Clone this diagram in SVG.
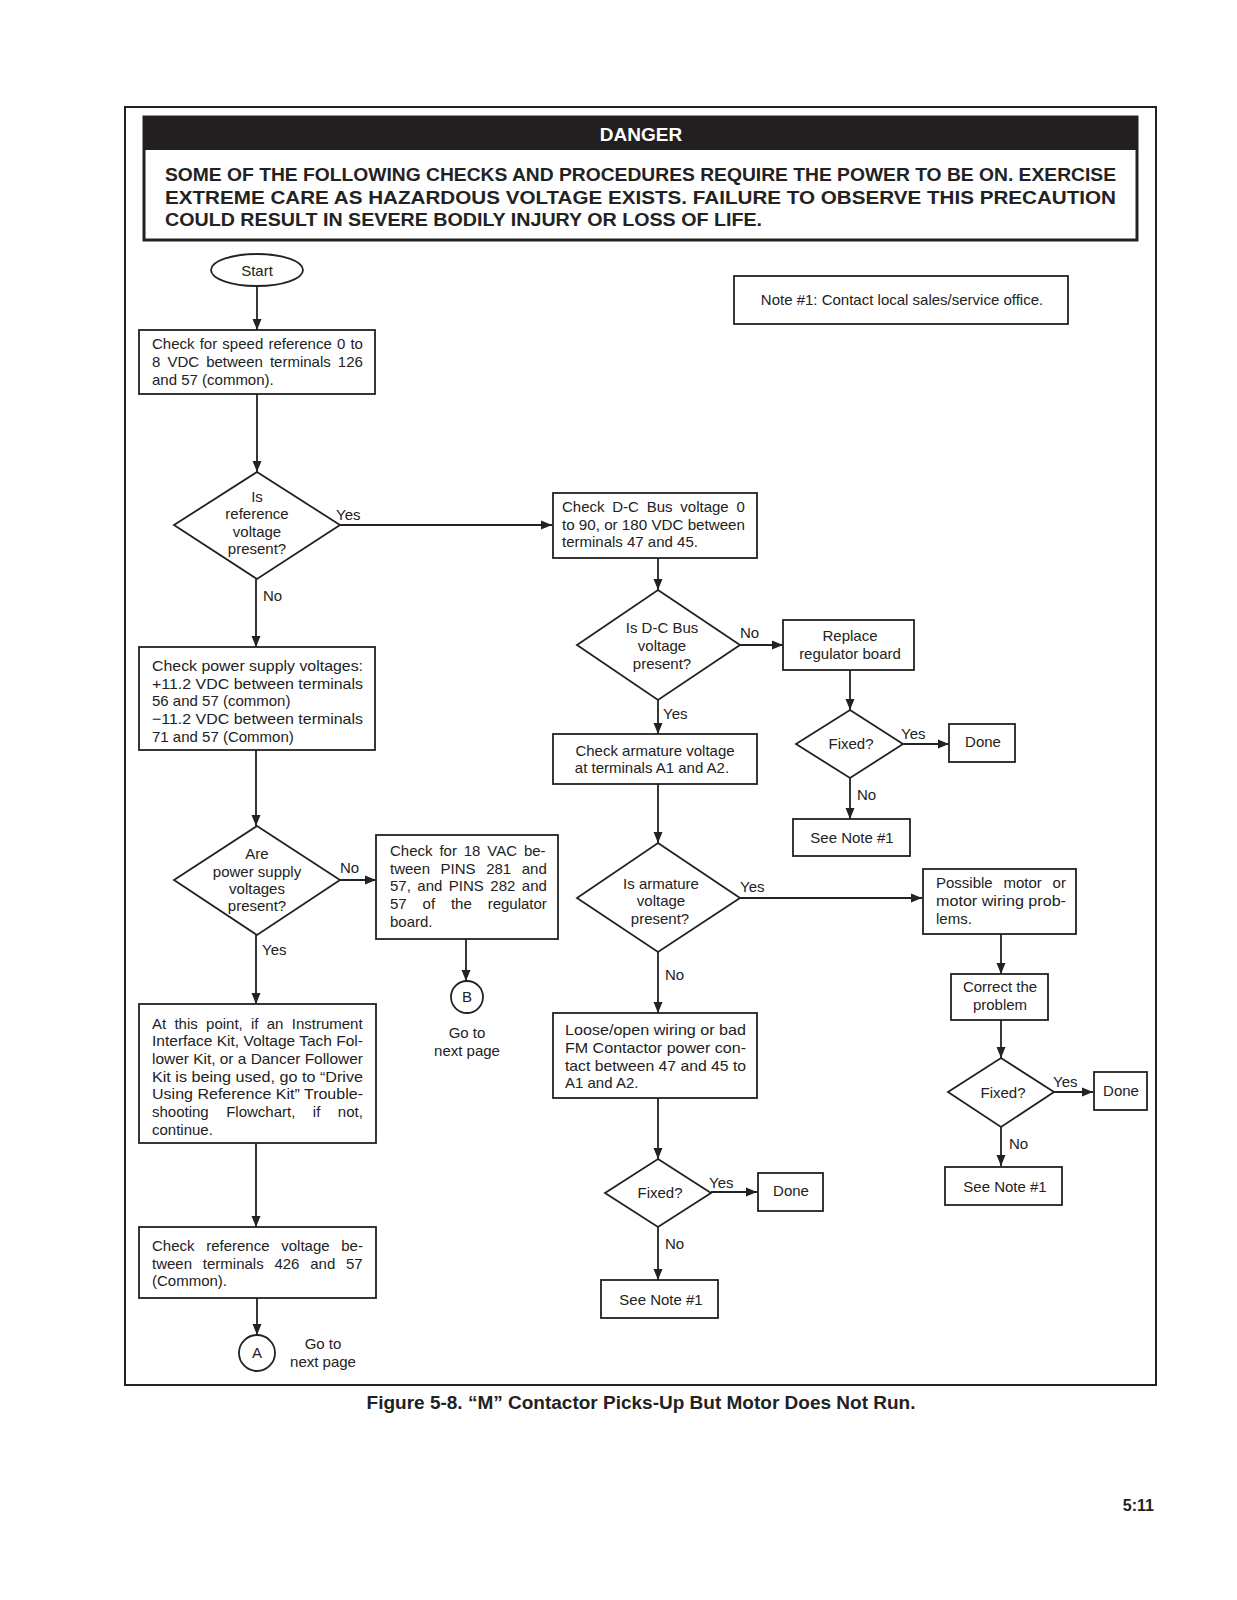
<svg xmlns="http://www.w3.org/2000/svg" width="1237" height="1600" viewBox="0 0 1237 1600">
<style>
  .bx{fill:#fff;stroke:#222;stroke-width:1.8}
  .t{font-family:"Liberation Sans",Arial,sans-serif;font-size:15px;fill:#222}
  .c{text-anchor:middle}
  .ln{stroke:#222;stroke-width:1.8;fill:none;marker-end:url(#ah)}
  .dg{font-family:"Liberation Sans",Arial,sans-serif;font-weight:bold;font-size:19px;fill:#222}
</style>
<defs>
  <marker id="ah" markerUnits="userSpaceOnUse" markerWidth="12" markerHeight="10" refX="11" refY="5" orient="auto">
    <path d="M0,0.5 L11,5 L0,9.5 Z" fill="#222"/>
  </marker>
</defs>
<rect width="1237" height="1600" fill="#fff"/>
<rect x="125" y="107" width="1031" height="1278" fill="none" stroke="#222" stroke-width="2"/>

<g id="danger">
  <rect x="144" y="117" width="993" height="123" fill="#fff" stroke="#222" stroke-width="3"/>
  <rect x="144" y="117" width="993" height="33" fill="#231f20"/>
  <text x="641" y="141" class="dg c" style="fill:#fff">DANGER</text>
  <text x="165" y="181" class="dg" textLength="951" lengthAdjust="spacingAndGlyphs">SOME OF THE FOLLOWING CHECKS AND PROCEDURES REQUIRE THE POWER TO BE ON. EXERCISE</text>
  <text x="165" y="204" class="dg" textLength="951" lengthAdjust="spacingAndGlyphs">EXTREME CARE AS HAZARDOUS VOLTAGE EXISTS. FAILURE TO OBSERVE THIS PRECAUTION</text>
  <text x="165" y="226" class="dg" textLength="597" lengthAdjust="spacingAndGlyphs">COULD RESULT IN SEVERE BODILY INJURY OR LOSS OF LIFE.</text>
</g>

<g id="connectors">
  <line x1="257" y1="286" x2="257" y2="330" class="ln"/>
  <line x1="257" y1="394" x2="257" y2="472" class="ln"/>
  <line x1="340" y1="525" x2="552" y2="525" class="ln"/>
  <line x1="256" y1="579" x2="256" y2="647" class="ln"/>
  <line x1="256" y1="750" x2="256" y2="826" class="ln"/>
  <line x1="340" y1="880" x2="376" y2="880" class="ln"/>
  <line x1="466" y1="939" x2="466" y2="981" class="ln"/>
  <line x1="256" y1="935" x2="256" y2="1004" class="ln"/>
  <line x1="256" y1="1143" x2="256" y2="1227" class="ln"/>
  <line x1="257" y1="1298" x2="257" y2="1335" class="ln"/>
  <line x1="658" y1="558" x2="658" y2="590" class="ln"/>
  <line x1="740" y1="645" x2="783" y2="645" class="ln"/>
  <line x1="850" y1="670" x2="850" y2="710" class="ln"/>
  <line x1="903" y1="744" x2="949" y2="744" class="ln"/>
  <line x1="850" y1="778" x2="850" y2="819" class="ln"/>
  <line x1="658" y1="700" x2="658" y2="734" class="ln"/>
  <line x1="658" y1="784" x2="658" y2="843" class="ln"/>
  <line x1="740" y1="898" x2="922" y2="898" class="ln"/>
  <line x1="1001" y1="934" x2="1001" y2="974" class="ln"/>
  <line x1="1001" y1="1020" x2="1001" y2="1058" class="ln"/>
  <line x1="1054" y1="1092" x2="1093" y2="1092" class="ln"/>
  <line x1="1001" y1="1127" x2="1001" y2="1166" class="ln"/>
  <line x1="658" y1="952" x2="658" y2="1013" class="ln"/>
  <line x1="658" y1="1098" x2="658" y2="1159" class="ln"/>
  <line x1="711" y1="1192" x2="757" y2="1192" class="ln"/>
  <line x1="658" y1="1227" x2="658" y2="1280" class="ln"/>
  <text x="336" y="520" class="t">Yes</text>
  <text x="263" y="601" class="t">No</text>
  <text x="340" y="873" class="t">No</text>
  <text x="262" y="955" class="t">Yes</text>
  <text x="740" y="638" class="t">No</text>
  <text x="663" y="719" class="t">Yes</text>
  <text x="901" y="739" class="t">Yes</text>
  <text x="857" y="800" class="t">No</text>
  <text x="740" y="892" class="t">Yes</text>
  <text x="665" y="980" class="t">No</text>
  <text x="1053" y="1087" class="t">Yes</text>
  <text x="1009" y="1149" class="t">No</text>
  <text x="709" y="1188" class="t">Yes</text>
  <text x="665" y="1249" class="t">No</text>
</g>

<g id="note1">
  <rect x="734" y="276" width="334" height="48" class="bx"/>
  <text x="902" y="305" class="t c">Note #1: Contact local sales/service office.</text>
</g>

<g id="start">
  <ellipse cx="257" cy="270" rx="46" ry="16" class="bx"/>
  <text x="257" y="276" class="t c">Start</text>
</g>

<g id="check-speed-ref">
  <rect x="139" y="330" width="236" height="64" class="bx"/>
  <text x="152" y="349" class="t" style="word-spacing:1px">Check for speed reference 0 to</text>
  <text x="152" y="367" class="t" style="word-spacing:2.9px">8 VDC between terminals 126</text>
  <text x="152" y="385" class="t">and 57 (common).</text>
</g>

<g id="ref-present">
  <polygon points="257,472 340,525 257,579 174,525" class="bx"/>
  <text x="257" y="502" class="t c">Is</text>
  <text x="257" y="519" class="t c">reference</text>
  <text x="257" y="537" class="t c">voltage</text>
  <text x="257" y="554" class="t c">present?</text>
</g>

<g id="check-power-supply">
  <rect x="139" y="647" width="236" height="103" class="bx"/>
  <text x="152" y="671" class="t" textLength="211" lengthAdjust="spacingAndGlyphs">Check power supply voltages:</text>
  <text x="152" y="689" class="t" textLength="211" lengthAdjust="spacingAndGlyphs">+11.2 VDC between terminals</text>
  <text x="152" y="706" class="t">56 and 57 (common)</text>
  <text x="152" y="724" class="t" textLength="211" lengthAdjust="spacingAndGlyphs">−11.2 VDC between terminals</text>
  <text x="152" y="742" class="t">71 and 57 (Common)</text>
</g>

<g id="ps-present">
  <polygon points="257,826 340,880 257,935 174,880" class="bx"/>
  <text x="257" y="859" class="t c">Are</text>
  <text x="257" y="877" class="t c">power supply</text>
  <text x="257" y="894" class="t c">voltages</text>
  <text x="257" y="911" class="t c">present?</text>
</g>

<g id="check-18vac">
  <rect x="376" y="835" width="182" height="104" class="bx"/>
  <text x="390" y="856" class="t" style="word-spacing:2.7px">Check for 18 VAC be-</text>
  <text x="390" y="874" class="t" style="word-spacing:6.4px">tween PINS 281 and</text>
  <text x="390" y="891" class="t" style="word-spacing:2.3px">57, and PINS 282 and</text>
  <text x="390" y="909" class="t" style="word-spacing:11.7px">57 of the regulator</text>
  <text x="390" y="927" class="t">board.</text>
</g>

<g id="connector-b">
  <circle cx="467" cy="997" r="16" class="bx"/>
  <text x="467" y="1002" class="t c">B</text>
  <text x="467" y="1038" class="t c">Go to</text>
  <text x="467" y="1056" class="t c">next page</text>
</g>

<g id="instrument-kit">
  <rect x="139" y="1004" width="237" height="139" class="bx"/>
  <text x="152" y="1029" class="t" style="word-spacing:4.1px">At this point, if an Instrument</text>
  <text x="152" y="1046" class="t" textLength="211" lengthAdjust="spacingAndGlyphs">Interface Kit, Voltage Tach Fol-</text>
  <text x="152" y="1064" class="t" textLength="211" lengthAdjust="spacingAndGlyphs">lower Kit, or a Dancer Follower</text>
  <text x="152" y="1082" class="t" textLength="211" lengthAdjust="spacingAndGlyphs">Kit is being used, go to “Drive</text>
  <text x="152" y="1099" class="t" textLength="211" lengthAdjust="spacingAndGlyphs">Using Reference Kit” Trouble-</text>
  <text x="152" y="1117" class="t" style="word-spacing:13.3px">shooting Flowchart, if not,</text>
  <text x="152" y="1135" class="t">continue.</text>
</g>

<g id="check-ref-426">
  <rect x="139" y="1227" width="237" height="71" class="bx"/>
  <text x="152" y="1251" class="t" style="word-spacing:7.5px">Check reference voltage be-</text>
  <text x="152" y="1269" class="t" style="word-spacing:6.6px">tween terminals 426 and 57</text>
  <text x="152" y="1286" class="t">(Common).</text>
</g>

<g id="connector-a">
  <circle cx="257" cy="1353" r="18" class="bx"/>
  <text x="257" y="1358" class="t c">A</text>
  <text x="323" y="1349" class="t c">Go to</text>
  <text x="323" y="1367" class="t c">next page</text>
</g>

<g id="check-dc-bus">
  <rect x="553" y="493" width="204" height="65" class="bx"/>
  <text x="562" y="512" class="t" style="word-spacing:3.6px">Check D-C Bus voltage 0</text>
  <text x="562" y="530" class="t" textLength="183" lengthAdjust="spacingAndGlyphs">to 90, or 180 VDC between</text>
  <text x="562" y="547" class="t">terminals 47 and 45.</text>
</g>

<g id="dc-bus-present">
  <polygon points="658,590 740,645 658,700 577,645" class="bx"/>
  <text x="662" y="633" class="t c">Is D-C Bus</text>
  <text x="662" y="651" class="t c">voltage</text>
  <text x="662" y="669" class="t c">present?</text>
</g>

<g id="replace-regulator">
  <rect x="783" y="620" width="131" height="50" class="bx"/>
  <text x="850" y="641" class="t c">Replace</text>
  <text x="850" y="659" class="t c">regulator board</text>
</g>

<g id="fixed-1">
  <polygon points="850,710 903,744 850,778 796,744" class="bx"/>
  <text x="851" y="749" class="t c">Fixed?</text>
</g>

<g id="done-1">
  <rect x="949" y="724" width="66" height="38" class="bx"/>
  <text x="983" y="747" class="t c">Done</text>
</g>

<g id="see-note-1">
  <rect x="793" y="819" width="117" height="37" class="bx"/>
  <text x="852" y="843" class="t c">See Note #1</text>
</g>

<g id="check-armature">
  <rect x="553" y="734" width="204" height="50" class="bx"/>
  <text x="655" y="756" class="t c">Check armature voltage</text>
  <text x="652" y="773" class="t c">at terminals A1 and A2.</text>
</g>

<g id="armature-present">
  <polygon points="658,843 740,898 658,952 577,898" class="bx"/>
  <text x="661" y="889" class="t c">Is armature</text>
  <text x="661" y="906" class="t c">voltage</text>
  <text x="660" y="924" class="t c">present?</text>
</g>

<g id="possible-motor">
  <rect x="923" y="869" width="153" height="65" class="bx"/>
  <text x="936" y="888" class="t" style="word-spacing:6.6px">Possible motor or</text>
  <text x="936" y="906" class="t" textLength="130" lengthAdjust="spacingAndGlyphs">motor wiring prob-</text>
  <text x="936" y="924" class="t">lems.</text>
</g>

<g id="correct-problem">
  <rect x="951" y="974" width="97" height="46" class="bx"/>
  <text x="1000" y="992" class="t c">Correct the</text>
  <text x="1000" y="1010" class="t c">problem</text>
</g>

<g id="fixed-2">
  <polygon points="1001,1058 1054,1092 1001,1127 948,1092" class="bx"/>
  <text x="1003" y="1098" class="t c">Fixed?</text>
</g>

<g id="done-2">
  <rect x="1094" y="1072" width="53" height="38" class="bx"/>
  <text x="1121" y="1096" class="t c">Done</text>
</g>

<g id="see-note-2">
  <rect x="945" y="1167" width="117" height="38" class="bx"/>
  <text x="1005" y="1192" class="t c">See Note #1</text>
</g>

<g id="loose-wiring">
  <rect x="553" y="1013" width="204" height="85" class="bx"/>
  <text x="565" y="1035" class="t" textLength="181" lengthAdjust="spacingAndGlyphs">Loose/open wiring or bad</text>
  <text x="565" y="1053" class="t" textLength="181" lengthAdjust="spacingAndGlyphs">FM Contactor power con-</text>
  <text x="565" y="1071" class="t" textLength="181" lengthAdjust="spacingAndGlyphs">tact between 47 and 45 to</text>
  <text x="565" y="1088" class="t">A1 and A2.</text>
</g>

<g id="fixed-3">
  <polygon points="658,1159 711,1193 658,1227 605,1193" class="bx"/>
  <text x="660" y="1198" class="t c">Fixed?</text>
</g>

<g id="done-3">
  <rect x="758" y="1173" width="65" height="38" class="bx"/>
  <text x="791" y="1196" class="t c">Done</text>
</g>

<g id="see-note-3">
  <rect x="601" y="1280" width="117" height="38" class="bx"/>
  <text x="661" y="1305" class="t c">See Note #1</text>
</g>

<text x="641" y="1409" class="dg c" style="font-size:19px">Figure 5-8. “M” Contactor Picks-Up But Motor Does Not Run.</text>
<text x="1154" y="1511" class="dg" style="font-size:16px;text-anchor:end">5:11</text>
</svg>
